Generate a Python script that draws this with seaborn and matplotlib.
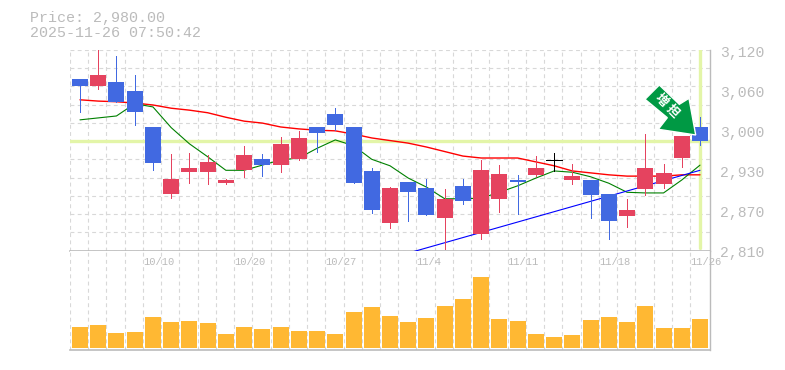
import numpy as np
import matplotlib
matplotlib.use("Agg")
import matplotlib.pyplot as plt
import seaborn as sns
from matplotlib.patches import Polygon
from matplotlib.transforms import IdentityTransform

# Prices, one entry per trading day
opens = [3075, 3064, 3071, 3057, 3001, 2897, 2931, 2931, 2914, 2934, 2951, 2942, 2951, 3001, 3021, 3001, 2933, 2853,
         2916, 2907, 2860, 2910, 2836, 2890, 2919, 2927, 2950, 2919, 2919, 2897, 2863, 2905, 2913, 2953, 3001]
closes = [3064, 3081, 3040, 3024, 2945, 2921, 2938, 2947, 2919, 2958, 2942, 2975, 2984, 2992, 3004, 2914, 2873, 2907,
          2900, 2865, 2890, 2887, 2934, 2928, 2916, 2938, 2950, 2925, 2896, 2856, 2873, 2938, 2930, 2987, 2980]
highs = [3075, 3120, 3111, 3081, 3001, 2959, 2961, 2958, 2920, 2972, 2959, 2985, 2995, 3001, 3030, 3001, 2938, 2908,
         2916, 2921, 2905, 2921, 2950, 2942, 2927, 2956, 2961, 2944, 2919, 2897, 2890, 2990, 2944, 2987, 3016]
lows = [3024, 3060, 3040, 3004, 2934, 2891, 2914, 2913, 2913, 2924, 2925, 2931, 2950, 2962, 2996, 2914, 2868, 2845,
        2856, 2865, 2812, 2882, 2828, 2870, 2866, 2925, 2933, 2913, 2860, 2828, 2846, 2896, 2907, 2939, 2973]
ma_red = [3043, 3041, 3040, 3038, 3035, 3030, 3027, 3023, 3016, 3010, 3007, 3001, 2998, 2996, 2995, 2990, 2984, 2980,
          2976, 2970, 2963, 2956, 2953, 2953, 2953, 2947, 2941, 2933, 2930, 2927, 2925, 2925, 2925, 2927, 2927]
ma_green = [3012, 3015, 3018, 3037, 3032, 3000, 2975, 2955, 2934, 2934, 2942, 2950, 2953, 2968, 2981, 2972, 2951, 2941,
            2922, 2908, 2890, 2890, 2891, 2900, 2910, 2922, 2933, 2931, 2924, 2914, 2900, 2899, 2899, 2919, 2942]
trend_days = [18, 34]
trend_prices = [2806, 2934]
volumes = [21, 23, 15, 16, 31, 26, 27, 25, 14, 21, 19, 21, 17, 17, 14, 36, 41, 32,
           26, 30, 42, 49, 71, 29, 27, 14, 11, 13, 28, 31, 26, 42, 20, 20, 29]
current_price = 2980
price_ticks = [3120, 3058, 2996, 2934, 2872, 2810]
price_labels = ["3,120", "3,060", "3,000", "2,930", "2,870", "2,810"]
date_days = [4, 9, 14, 19, 24, 29, 34]
date_labels = ["10/10", "10/20", "10/27", "11/4", "11/11", "11/18", "11/26"]

RED = "#e5435f"
BLUE = "#4169e1"
GRAY = "#bbbbbb"
GRID = "#d8d8d8"
MONO = "Liberation Mono"
THIN = 0.55  # aliased lines come out one pixel wide at this width

sns.set_style("white")
days = np.arange(len(opens))
opens, closes, highs, lows = map(np.array, (opens, closes, highs, lows))

fig = plt.figure(figsize=(7.85, 3.70), dpi=100)
ax = fig.add_axes([70 / 785, 119.5 / 370, 640 / 785, 200.5 / 370])
ax_vol = fig.add_axes([70 / 785, 20 / 370, 640 / 785, 99.5 / 370])

# Volume panel
sns.barplot(x=days, y=volumes, native_scale=True, width=0.88, color="#ffb833", saturation=1, ax=ax_vol, zorder=3,
            linewidth=0, edgecolor="none")
ax_vol.set_ylim(-2, 97.5)
ax_vol.set(xlabel="", ylabel="")

# Moving averages and trend line, below the candles
sns.lineplot(x=days, y=ma_red, color="#ff0000", lw=1.0, ax=ax, zorder=3)
sns.lineplot(x=days, y=ma_green, color="#008000", lw=0.8, ax=ax, zorder=3)
sns.lineplot(x=trend_days, y=trend_prices, color="#0000ff", lw=0.8, ax=ax, zorder=3, clip_on=False)

ax.axhline(current_price, color="#e3f5a8", lw=2.4, zorder=2)
ax.axvline(days[-1], ymin=0.0125, ymax=1, color="#e3f5a8", lw=2.4, zorder=2)

# Candles
up = closes > opens
down = closes < opens
flat = closes == opens
ax.vlines(days[up], lows[up], highs[up], color=RED, lw=THIN, zorder=4, antialiased=False)
ax.vlines(days[down], lows[down], highs[down], color=BLUE, lw=THIN, zorder=4, antialiased=False)
ax.vlines(days[flat], lows[flat], highs[flat], color="black", lw=THIN, zorder=4, antialiased=False)
ax.hlines(closes[flat], days[flat] - 0.44, days[flat] + 0.44, color="black", lw=THIN, zorder=4, antialiased=False)
ax.bar(days[up], (closes - opens)[up], bottom=opens[up], width=0.88, color=RED, zorder=5, linewidth=0,
       edgecolor="none", antialiased=False)
ax.bar(days[down], (opens - closes)[down], bottom=closes[down], width=0.88, color=BLUE, zorder=5, linewidth=0,
       edgecolor="none", antialiased=False)

# Same x scale and dashed grid on both panels
for a in (ax, ax_vol):
    a.set_xlim(-0.548, 34.548)
    a.set_xticks(days - 0.548)
    a.set_xticklabels([])
    a.tick_params(length=0)
    a.set_yticklabels([])
    a.grid(True, axis="x", color=GRID, lw=0.8, linestyle=(0, (3.5, 3)))
    a.set_axisbelow(True)
    for side in ("top", "left"):
        a.spines[side].set_visible(False)
    a.spines["right"].set(color=GRAY, lw=1.0)
    a.spines["bottom"].set(color=GRAY, lw=1.2)
ax.set_ylim(2810, 3120)
ax.set_yticks(np.linspace(2810, 3120, 12))
ax.set_yticklabels([])
ax.grid(True, axis="y", color=GRID, lw=0.8, linestyle=(0, (3.5, 3)))
ax_vol.set_yticks([])

# Right hand price labels sit a little under their level
for p, label in zip(price_ticks, price_labels):
    ax.annotate(label, xy=(1, p), xycoords=("axes fraction", "data"), xytext=(7, -2), textcoords="offset points",
                ha="left", va="center", color=GRAY, fontsize=10.6, family=MONO, annotation_clip=False, zorder=6)

for d, label in zip(date_days, date_labels):
    ax_vol.annotate(label, xy=(d - 0.548, 1), xycoords=("data", "axes fraction"), xytext=(0, -8.5),
                    textcoords="offset points", ha="left", va="center", color=GRAY, fontsize=7.6, family=MONO,
                    annotation_clip=False, zorder=6)

fig.text(30 / 785, 1 - 18 / 370, "Price: 2,980.00", color=GRAY, fontsize=10.8, family=MONO, va="center")
fig.text(30 / 785, 1 - 33 / 370, "2025-11-26 07:50:42", color=GRAY, fontsize=10.8, family=MONO, va="center")

# Green badge arrow, placed in image pixels
badge_px = [(645, 99.3), (659.3, 85), (679.3, 104.3), (689, 98.3), (695.7, 135), (658.3, 129.3), (667.3, 117.7)]
fig.add_artist(Polygon([(x, 370 - y) for x, y in badge_px], closed=True, facecolor="#009944", edgecolor="white",
                       lw=1.0, transform=IdentityTransform(), zorder=10))
fig.text(661 / 785, 1 - 100 / 370, "増", color="white", fontsize=9, family="Noto Sans CJK JP", fontweight="bold",
         rotation=-45, ha="center", va="center", zorder=11)
fig.text(672 / 785, 1 - 111 / 370, "担", color="white", fontsize=9, family="Noto Sans CJK JP", fontweight="bold",
         rotation=-45, ha="center", va="center", zorder=11)

fig.savefig("out.png", dpi=100)
